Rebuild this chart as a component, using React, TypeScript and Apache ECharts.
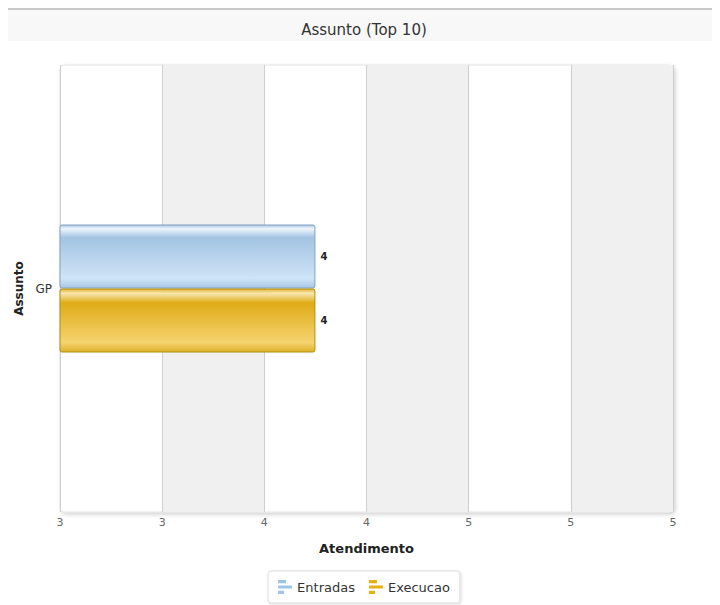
import React, { useEffect, useRef } from "react";
import * as echarts from "echarts";

const categories = ["GP"];
const entradas = [4];
const execucao = [4];
const xTickLabels = ["3", "3", "4", "4", "5", "5", "5"];
const axisMin = 3;
const axisStep = 0.4;
const axisMax = 5.4;

const legendIcon = "path://M0,0H8V3.2H0Z M0,5.4H14V8.6H0Z M0,10.8H6V14H0Z";

export default function App() {
  const ref = useRef<HTMLDivElement>(null);
  useEffect(() => {
    if (!ref.current) return;
    const chart = echarts.init(ref.current, null, { renderer: "svg" });
    const font = "DejaVu Sans";
    chart.setOption({
      animation: false,
      textStyle: { fontFamily: font },
      title: {
        text: "Assunto (Top 10)",
        left: "center",
        top: 9,
        textStyle: { fontSize: 15, fontWeight: "normal", color: "#333", fontFamily: font },
      },
      graphic: [
        { type: "rect", z: -10, shape: { x: -3, y: 1, width: 720, height: 32 }, style: { fill: "#f8f8f8" } },
        { type: "rect", z: -10, shape: { x: -3, y: 0, width: 720, height: 2 }, style: { fill: "#c8c8c8" } },
        {
          type: "rect",
          z: -10,
          shape: { x: 52, y: 57, width: 613, height: 447, r: 4 },
          style: { fill: "#fff", stroke: "#e4e4e4", lineWidth: 1, shadowBlur: 4, shadowOffsetX: 2, shadowOffsetY: 2, shadowColor: "rgba(0,0,0,0.18)" },
        },
      ],
      legend: {
        bottom: 2,
        left: "center",
        data: [
          { name: "Entradas", icon: legendIcon, itemStyle: { color: "#9ec4e6", borderWidth: 0 } },
          { name: "Execucao", icon: legendIcon, itemStyle: { color: "#e6b010", borderWidth: 0 } },
        ],
        itemWidth: 14,
        itemHeight: 14,
        itemGap: 14,
        padding: [9, 10, 9, 10],
        borderColor: "#dcdcdc",
        borderWidth: 1,
        borderRadius: 3,
        backgroundColor: "#fff",
        shadowBlur: 3,
        shadowOffsetX: 1,
        shadowOffsetY: 1,
        shadowColor: "rgba(0,0,0,0.15)",
        textStyle: { fontSize: 13, color: "#333", fontFamily: font },
      },
      grid: { left: 52, right: 47, top: 57, bottom: 93, containLabel: false, outerBoundsMode: "none" },
      xAxis: {
        type: "value",
        min: axisMin,
        max: axisMax,
        interval: axisStep,
        name: "Atendimento",
        nameLocation: "middle",
        nameGap: 30,
        nameTextStyle: { fontSize: 13, fontWeight: "bold", color: "#222", fontFamily: font },
        axisLine: { show: false },
        axisTick: { show: false },
        axisLabel: {
          color: "#666",
          fontSize: 11,
          margin: 5,
          formatter: (v: number) => xTickLabels[Math.round((v - axisMin) / axisStep)] ?? "",
        },
        splitLine: { show: true, lineStyle: { color: "#cfcfcf", width: 1 } },
        splitArea: { show: true, areaStyle: { color: ["rgba(255,255,255,0)", "#f0f0f0"] } },
      },
      yAxis: {
        type: "category",
        data: categories,
        name: "Assunto",
        nameLocation: "middle",
        nameGap: 34,
        nameRotate: 90,
        nameTextStyle: { fontSize: 12, fontWeight: "bold", color: "#222", fontFamily: font },
        axisLine: { show: false },
        axisTick: { show: false },
        axisLabel: { color: "#333", fontSize: 12, margin: 8 },
        splitLine: { show: false },
      },
      series: [
        {
          name: "Entradas",
          type: "bar",
          data: entradas,
          barWidth: 64,
          barGap: "0%",
          label: { show: true, position: "right", distance: 5, fontSize: 10, fontWeight: "bold", color: "#222" },
          itemStyle: {
            borderColor: "#7fa3c3",
            borderWidth: 1,
            borderRadius: 2,
            color: new echarts.graphic.LinearGradient(0, 0, 0, 1, [
              { offset: 0, color: "#a9c7e2" },
              { offset: 0.06, color: "#eef5fb" },
              { offset: 0.2, color: "#a3c4e2" },
              { offset: 0.85, color: "#cfe4f7" },
              { offset: 1, color: "#a7c6e3" },
            ]),
          },
        },
        {
          name: "Execucao",
          type: "bar",
          data: execucao,
          barWidth: 64,
          barGap: "0%",
          label: { show: true, position: "right", distance: 5, fontSize: 10, fontWeight: "bold", color: "#222" },
          itemStyle: {
            borderColor: "#b38e10",
            borderWidth: 1,
            borderRadius: 2,
            color: new echarts.graphic.LinearGradient(0, 0, 0, 1, [
              { offset: 0, color: "#e3b531" },
              { offset: 0.07, color: "#f7e6ae" },
              { offset: 0.22, color: "#dfab17" },
              { offset: 0.85, color: "#f5d46f" },
              { offset: 1, color: "#e0b02a" },
            ]),
          },
        },
      ],
    });
    return () => chart.dispose();
  }, []);
  return <div ref={ref} style={{ width: 712, height: 597 }} />;
}
